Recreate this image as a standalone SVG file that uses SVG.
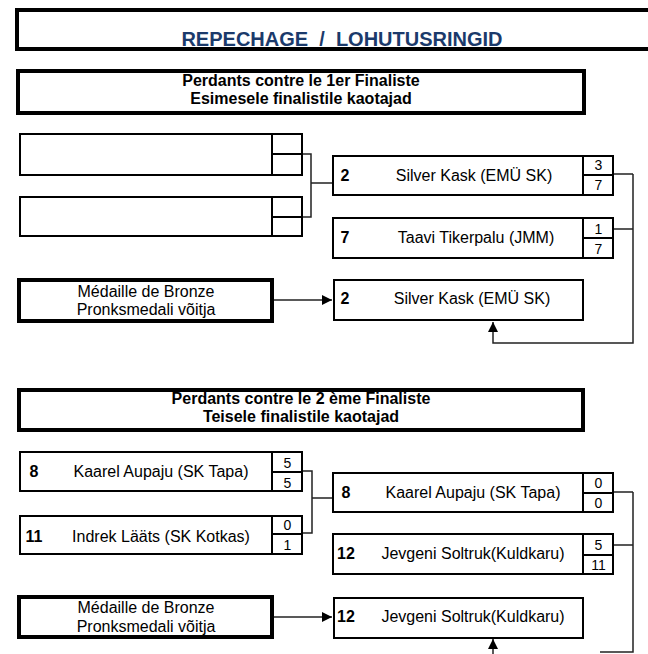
<svg xmlns="http://www.w3.org/2000/svg" width="648" height="654" viewBox="0 0 648 654">
<style>
text{font-family:"Liberation Sans",Arial,sans-serif;fill:#000}
.thick{fill:#fff;stroke:#000;stroke-width:4}
.box{fill:#fff;stroke:#000;stroke-width:2}
.ln{stroke:#000;stroke-width:2;fill:none}
.con{stroke:#222;stroke-width:1.5;fill:none}
.title{font-size:20px;font-weight:bold;fill:#1B3A6B;text-anchor:middle;white-space:pre}
.hd{font-size:16px;font-weight:bold;text-anchor:middle}
.br{font-size:16px;text-anchor:middle}
.num{font-size:16px;font-weight:bold;text-anchor:middle}
.nm{font-size:16px;text-anchor:middle}
.sc{font-size:14px;text-anchor:middle}
</style>
<defs>
<marker id="ah" viewBox="0 0 10 10" refX="10" refY="5" markerWidth="10" markerHeight="10" markerUnits="userSpaceOnUse" orient="auto">
<path d="M0,0 L10,5 L0,10 Z" fill="#000"/>
</marker>
</defs>
<rect width="648" height="654" fill="#fff"/>

<g id="title">
<rect class="thick" x="17" y="10" width="700" height="39"/>
<text class="title" x="342" y="46" xml:space="preserve">REPECHAGE  /  LOHUTUSRINGID</text>
</g>

<g id="header1">
<rect class="thick" x="18" y="71" width="566" height="42"/>
<text class="hd" x="301" y="86">Perdants contre le 1er Finaliste</text>
<text class="hd" x="301" y="104">Esimesele finalistile kaotajad</text>
</g>

<g id="empty1">
<rect class="box" x="20" y="134" width="282" height="41"/>
<path class="ln" d="M272,134 V175 M272,154 H302"/>
</g>
<g id="empty2">
<rect class="box" x="20" y="197" width="282" height="39"/>
<path class="ln" d="M272,197 V236 M272,217 H302"/>
</g>

<g id="silver1">
<rect class="box" x="333" y="156" width="280" height="39"/>
<path class="ln" d="M583,156 V195 M583,175 H613"/>
<text class="num" x="345" y="181">2</text>
<text class="nm" x="474" y="181">Silver Kask (EMÜ SK)</text>
<text class="sc" x="598.5" y="170">3</text>
<text class="sc" x="598.5" y="190">7</text>
</g>

<g id="taavi">
<rect class="box" x="333" y="218" width="280" height="40"/>
<path class="ln" d="M583,218 V258 M583,238 H613"/>
<text class="num" x="345" y="243">7</text>
<text class="nm" x="476" y="243">Taavi Tikerpalu (JMM)</text>
<text class="sc" x="598.5" y="234">1</text>
<text class="sc" x="598.5" y="254">7</text>
</g>

<g id="bronze1">
<rect class="thick" x="19" y="280" width="253" height="41"/>
<text class="br" x="146" y="297">Médaille de Bronze</text>
<text class="br" x="146" y="315">Pronksmedali võitja</text>
</g>

<g id="winner1">
<rect class="box" x="334" y="280" width="249" height="40"/>
<text class="num" x="345" y="304">2</text>
<text class="nm" x="472" y="304">Silver Kask (EMÜ SK)</text>
</g>

<g id="header2">
<rect class="thick" x="19" y="390" width="564" height="40"/>
<text class="hd" x="301" y="404">Perdants contre le 2 ème Finaliste</text>
<text class="hd" x="301" y="422">Teisele finalistile kaotajad</text>
</g>

<g id="kaarelL">
<rect class="box" x="20" y="452" width="282" height="39"/>
<path class="ln" d="M272,452 V491 M272,472 H302"/>
<text class="num" x="34" y="477">8</text>
<text class="nm" x="161" y="477">Kaarel Aupaju (SK Tapa)</text>
<text class="sc" x="287.5" y="468">5</text>
<text class="sc" x="287.5" y="488">5</text>
</g>

<g id="indrek">
<rect class="box" x="20" y="516" width="282" height="38"/>
<path class="ln" d="M272,516 V554 M272,534 H302"/>
<text class="num" x="34" y="542">11</text>
<text class="nm" x="161" y="542">Indrek Lääts (SK Kotkas)</text>
<text class="sc" x="287.5" y="530">0</text>
<text class="sc" x="287.5" y="550">1</text>
</g>

<g id="kaarelR">
<rect class="box" x="333" y="473" width="280" height="39"/>
<path class="ln" d="M583,473 V512 M583,493 H613"/>
<text class="num" x="346" y="498">8</text>
<text class="nm" x="473" y="498">Kaarel Aupaju (SK Tapa)</text>
<text class="sc" x="598.5" y="488">0</text>
<text class="sc" x="598.5" y="508">0</text>
</g>

<g id="jevgeni">
<rect class="box" x="333" y="534" width="280" height="40"/>
<path class="ln" d="M583,534 V574 M583,555 H613"/>
<text class="num" x="346" y="559">12</text>
<text class="nm" x="473" y="559">Jevgeni Soltruk(Kuldkaru)</text>
<text class="sc" x="598.5" y="550">5</text>
<text class="sc" x="598.5" y="570">11</text>
</g>

<g id="bronze2">
<rect class="thick" x="19" y="597" width="253" height="40"/>
<text class="br" x="146" y="613">Médaille de Bronze</text>
<text class="br" x="146" y="632">Pronksmedali võitja</text>
</g>

<g id="winner2">
<rect class="box" x="334" y="598" width="249" height="40"/>
<text class="num" x="346" y="622">12</text>
<text class="nm" x="473" y="622">Jevgeni Soltruk(Kuldkaru)</text>
</g>

<g id="connectors">
<path class="con" d="M303,154 H311 V217 H303 M311,183 H332"/>
<path class="con" d="M614,174 H633 M614,229 H633 M633,174 V343 H493 V322" marker-end="url(#ah)"/>
<path class="con" d="M274,300 H332" marker-end="url(#ah)"/>
<path class="con" d="M303,471 H312 V533 H303 M312,498 H332"/>
<path class="con" d="M614,492 H633 M614,545 H633 M633,492 V652 H600"/>
<path class="con" d="M493,654 V639" marker-end="url(#ah)"/>
<path class="con" d="M274,617 H332" marker-end="url(#ah)"/>
</g>
</svg>
